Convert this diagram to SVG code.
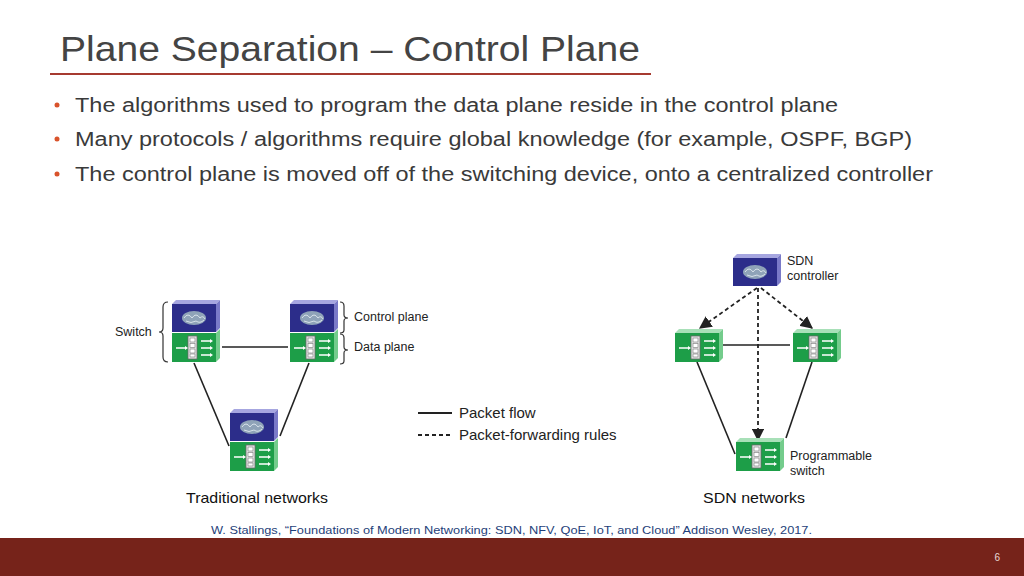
<svg xmlns="http://www.w3.org/2000/svg" xmlns:xlink="http://www.w3.org/1999/xlink" width="1024" height="576" viewBox="0 0 1024 576">
<style>
text{font-family:"Liberation Sans",Arial,sans-serif}
.b{font-size:20px;fill:#3a3a3a}
.l{font-size:12.5px;fill:#222}
.lg{font-size:15px;fill:#222}
.cap{font-size:14.5px;fill:#111}
.ln{stroke:#222;stroke-width:1.6;fill:none}
.dl{stroke:#222;stroke-width:1.8;fill:none;stroke-dasharray:4 3}
</style>
<defs>
<marker id="ah" viewBox="0 0 10 10" refX="9" refY="5" markerWidth="7" markerHeight="7" orient="auto"><path d="M0,0 L10,5 L0,10 z" fill="#222"/></marker>
<g id="ctl">
<path d="M0,4 L4,0 L48,0 L44,4 z" fill="#a6a6e0"/>
<path d="M44,4 L48,0 L48,28 L44,32 z" fill="#7a7ac8"/>
<rect x="0" y="4" width="44" height="28" fill="#2c2d8a"/>
<ellipse cx="22" cy="18" rx="12" ry="7" fill="#8fa3b8"/>
<path d="M12,18 q4,-6 8,0 q4,-6 8,0 q3,-3 5,1 M14,21 q5,3 10,0 q4,3 8,-1" stroke="#d8e2ea" stroke-width="1" fill="none"/>
</g>
<g id="dat">
<path d="M44,0 L48,-4 L48,25 L44,29 z" fill="#74cc8c"/>
<rect x="0" y="0" width="44" height="29" fill="#1d9e48"/>
<rect x="16" y="3" width="9" height="23" fill="#e6e6e6" stroke="#666" stroke-width="0.8"/>
<rect x="18" y="5" width="5" height="4" fill="#fff" stroke="#777" stroke-width="0.6"/>
<rect x="18" y="10.5" width="5" height="4" fill="#fff" stroke="#777" stroke-width="0.6"/>
<rect x="18" y="16" width="5" height="4" fill="#fff" stroke="#777" stroke-width="0.6"/>
<rect x="18" y="21" width="5" height="3" fill="#fff" stroke="#777" stroke-width="0.6"/>
<path d="M4,15 h9 M29,8 h9 M29,15 h9 M29,22 h9" stroke="#fff" stroke-width="1.4"/>
<path d="M13,13 l3,2 l-3,2 z M38,6 l3,2 l-3,2 z M38,13 l3,2 l-3,2 z M38,20 l3,2 l-3,2 z" fill="#fff"/>
</g>
<g id="dat0">
<path d="M0,0 L4,-4 L48,-4 L44,0 z" fill="#a8e0b8"/>
<use xlink:href="#dat"/>
</g>
</defs>
<rect width="1024" height="576" fill="#fff"/>
<text x="60" y="61" font-size="35" fill="#444" textLength="580" lengthAdjust="spacingAndGlyphs">Plane Separation – Control Plane</text>
<line x1="50" y1="74" x2="651" y2="74" stroke="#a63a30" stroke-width="2"/>
<g fill="#d9532b"><circle cx="57" cy="105" r="2.5"/><circle cx="57" cy="139" r="2.5"/><circle cx="57" cy="174" r="2.5"/></g>
<text class="b" x="75" y="112" textLength="763" lengthAdjust="spacingAndGlyphs">The algorithms used to program the data plane reside in the control plane</text>
<text class="b" x="75" y="146" textLength="837" lengthAdjust="spacingAndGlyphs">Many protocols / algorithms require global knowledge (for example, OSPF, BGP)</text>
<text class="b" x="75" y="181" textLength="858" lengthAdjust="spacingAndGlyphs">The control plane is moved off of the switching device, onto a centralized controller</text>

<g id="connectors">
<line class="ln" x1="222" y1="347" x2="288" y2="347"/>
<line class="ln" x1="194" y1="363" x2="229" y2="446"/>
<line class="ln" x1="309" y1="363" x2="280" y2="436"/>
<line class="ln" x1="722" y1="345" x2="790" y2="345"/>
<line class="ln" x1="697" y1="362" x2="735" y2="454"/>
<line class="ln" x1="812" y1="362" x2="786" y2="438"/>
<line class="dl" x1="757" y1="288" x2="700" y2="328" marker-end="url(#ah)"/>
<line class="dl" x1="761" y1="288" x2="812" y2="328" marker-end="url(#ah)"/>
<line class="dl" x1="758" y1="288" x2="758" y2="440" marker-end="url(#ah)"/>
</g>

<g id="sw1"><use xlink:href="#ctl" x="172" y="300"/><use xlink:href="#dat" x="172" y="333"/></g>
<g id="sw2"><use xlink:href="#ctl" x="290" y="300"/><use xlink:href="#dat" x="290" y="333"/></g>
<g id="sw3"><use xlink:href="#ctl" x="230" y="409"/><use xlink:href="#dat" x="230" y="442"/></g>
<g id="braces" fill="none" stroke="#333" stroke-width="1.2">
<path d="M168,302 q-5,0 -5,5 v21 q0,4 -4,4 q4,0 4,4 v21 q0,5 5,5"/>
<path d="M340,302 q4,0 4,4 v9 q0,3 4,3 q-4,0 -4,3 v9 q0,3 -4,3"/>
<path d="M340,334 q4,0 4,4 v9 q0,3 4,3 q-4,0 -4,3 v8 q0,3 -4,3"/>
</g>
<text class="l" x="115" y="336">Switch</text>
<text class="l" x="354" y="321">Control plane</text>
<text class="l" x="354" y="351">Data plane</text>

<g id="legend">
<line x1="418" y1="413" x2="452" y2="413" stroke="#222" stroke-width="1.8"/>
<line x1="418" y1="435" x2="452" y2="435" class="dl"/>
<text class="lg" x="459" y="418">Packet flow</text>
<text class="lg" x="459" y="440">Packet-forwarding rules</text>
</g>

<g id="ctrl"><use xlink:href="#ctl" x="733" y="254"/></g>
<g id="s1"><use xlink:href="#dat0" x="675" y="333"/></g>
<g id="s2"><use xlink:href="#dat0" x="793" y="333"/></g>
<g id="s3"><use xlink:href="#dat0" x="736" y="442"/></g>
<text class="l" x="787" y="265">SDN</text>
<text class="l" x="787" y="280">controller</text>
<text class="l" x="790" y="460">Programmable</text>
<text class="l" x="790" y="475">switch</text>

<text class="cap" x="186" y="503" textLength="142" lengthAdjust="spacingAndGlyphs">Traditional networks</text>
<text class="cap" x="703" y="503" textLength="102" lengthAdjust="spacingAndGlyphs">SDN networks</text>
<text x="211" y="534" font-size="11.5" fill="#1f3f7a" textLength="601" lengthAdjust="spacingAndGlyphs">W. Stallings, “Foundations of Modern Networking: SDN, NFV, QoE, IoT, and Cloud” Addison Wesley, 2017.</text>
<rect x="0" y="538" width="1024" height="38" fill="#76231a"/>
<text x="1000" y="561" font-size="10" fill="#e8d8d4" text-anchor="end">6</text>
</svg>
